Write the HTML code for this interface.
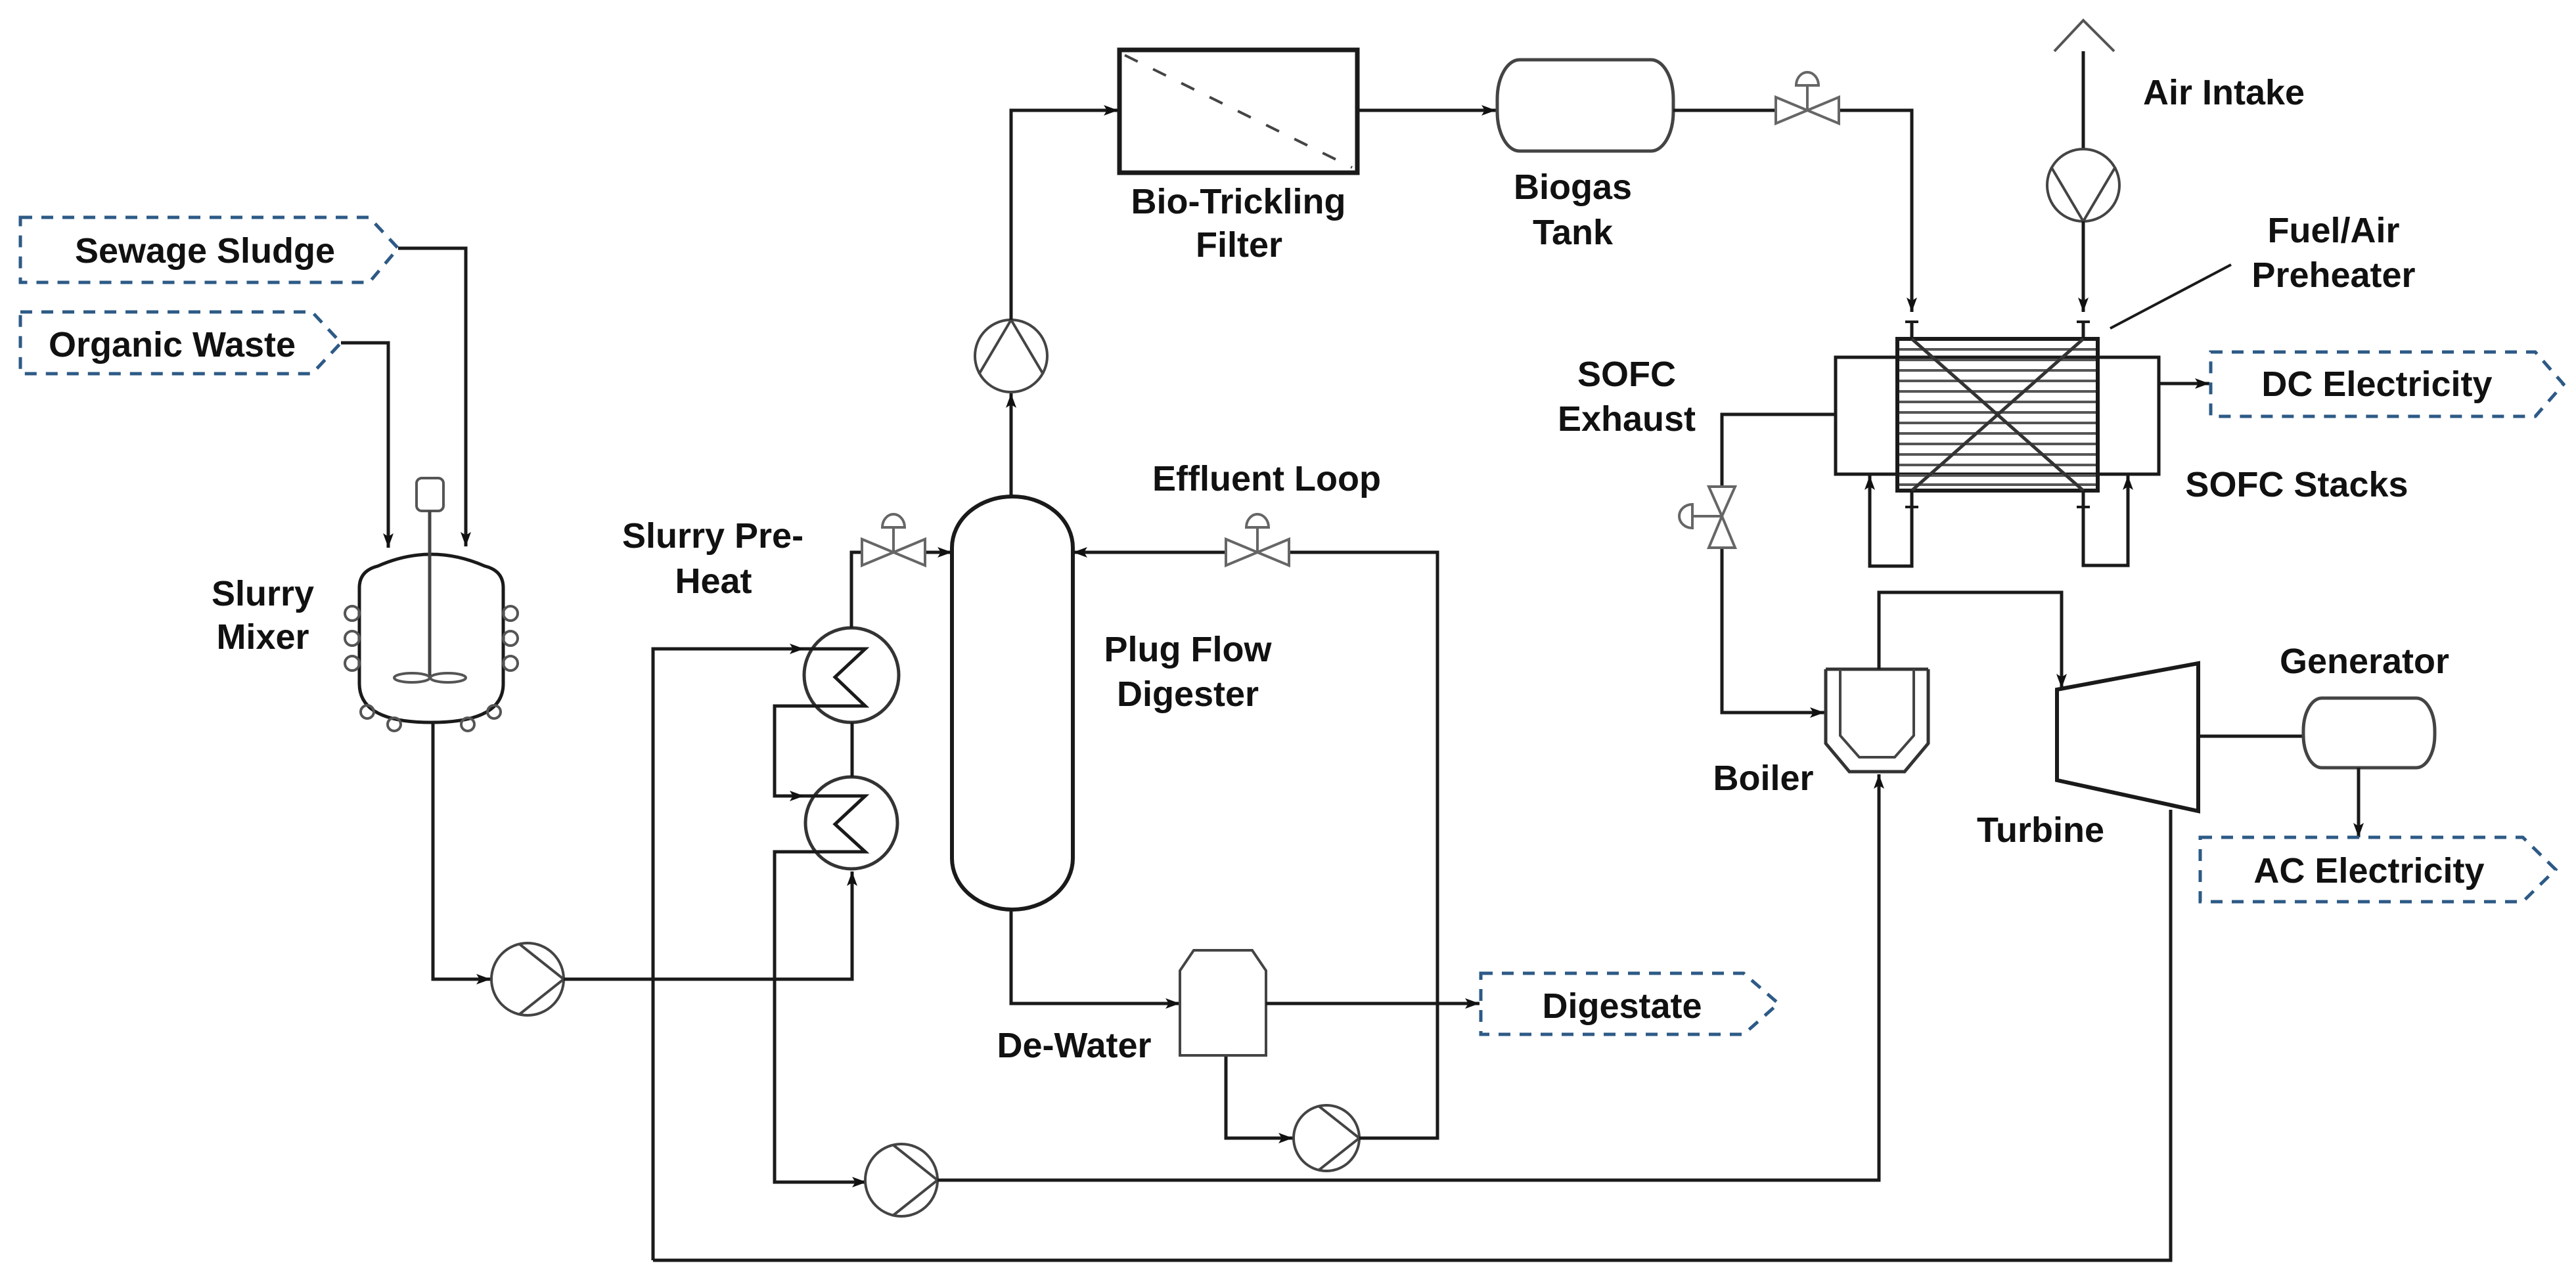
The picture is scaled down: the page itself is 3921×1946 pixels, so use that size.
<!DOCTYPE html>
<html><head><meta charset="utf-8"><style>
html,body{margin:0;padding:0;background:#fff}
svg{display:block}
text{font-family:"Liberation Sans",Arial,sans-serif;font-weight:bold;font-size:54px;fill:#111;text-anchor:middle}
</style></head><body>
<svg width="3921" height="1946" viewBox="0 0 3921 1946" xmlns="http://www.w3.org/2000/svg">
<defs>
<marker id="a" markerUnits="userSpaceOnUse" markerWidth="24" markerHeight="16" refX="22" refY="8" orient="auto">
<path d="M0,0 L22,8 L0,16 L5,8 z" fill="#111"/></marker>
</defs>
<g fill="none" stroke="#1a1a1a" stroke-width="5">
<!-- feeds -->
<polyline points="606,378 709,378 709,832" marker-end="url(#a)"/>
<polyline points="519,522 591,522 591,834" marker-end="url(#a)"/>
<!-- mixer -->
<path d="M547,1041 L547,895 Q547,869 575,862 Q656,826 738,862 Q766,869 766,895 L766,1041 Q766,1100 656,1100 Q547,1100 547,1041 Z"/>
<rect x="634" y="728" width="41" height="50" rx="8" stroke="#555" stroke-width="4"/>
<line x1="654" y1="778" x2="654" y2="1032" stroke="#444" stroke-width="5"/>
<ellipse cx="627" cy="1032" rx="27" ry="7" stroke="#555" stroke-width="4"/>
<ellipse cx="682" cy="1032" rx="27" ry="7" stroke="#555" stroke-width="4"/>
<g stroke="#555" stroke-width="4">
<circle cx="536" cy="934" r="11"/><circle cx="536" cy="972" r="11"/><circle cx="536" cy="1010" r="11"/>
<circle cx="777" cy="934" r="11"/><circle cx="777" cy="972" r="11"/><circle cx="777" cy="1010" r="11"/>
<circle cx="559" cy="1084" r="10"/><circle cx="600" cy="1103" r="10"/><circle cx="712" cy="1103" r="10"/><circle cx="752" cy="1084" r="10"/>
</g>
<!-- mixer to pump1 -->
<polyline points="659,1100 659,1491 747,1491" marker-end="url(#a)"/>
<g stroke="#444" stroke-width="4"><circle cx="803" cy="1491" r="55"/><polyline points="790,1437 858,1491 790,1545"/></g>
<polyline points="858,1491 1297,1491 1297,1327" marker-end="url(#a)"/>
<!-- heat exchangers -->
<g stroke="#333"><circle cx="1296" cy="1028" r="72"/><circle cx="1296" cy="1253" r="70"/></g>
<polyline points="994,1919 994,988 1224,988" marker-end="url(#a)"/>
<polyline points="1224,988 1317,988 1271,1031 1317,1075 1179,1075 1179,1212 1224,1212"/>
<polyline points="1179,1212 1224,1212" marker-end="url(#a)"/>
<polyline points="1224,1212 1317,1212 1271,1255 1317,1297 1179,1297 1179,1800 1319,1800"/>
<polyline points="1260,1800 1319,1800" marker-end="url(#a)"/>
<line x1="1297" y1="1100" x2="1297" y2="1183"/>
<polyline points="1296,956 1296,841 1312,841"/>
<polyline points="1408,841 1449,841" marker-end="url(#a)"/>
<!-- pump2 -->
<g stroke="#444" stroke-width="4"><circle cx="1372" cy="1797" r="55"/><polyline points="1359,1743 1427,1797 1359,1851"/></g>
<polyline points="1427,1797 2860,1797 2860,1179" marker-end="url(#a)"/>
<!-- big return line -->
<polyline points="994,1919 3304,1919 3304,1233"/>
<!-- digester -->
<path d="M1449,834 A92,78 0 0 1 1633,834 L1633,1307 A92,78 0 0 1 1449,1307 Z" stroke-width="6"/>
<polyline points="1539,756 1539,599" marker-end="url(#a)"/>
<g stroke="#444" stroke-width="4"><circle cx="1539" cy="542" r="55"/><polyline points="1490,570 1539,487 1588,570"/></g>
<polyline points="1539,487 1539,168 1702,168" marker-end="url(#a)"/>
<!-- effluent loop -->
<polyline points="1866,1607 1866,1733 1968,1733" marker-end="url(#a)"/>
<g stroke="#444" stroke-width="4"><circle cx="2019" cy="1733" r="50"/><polyline points="2007,1684 2069,1733 2007,1782"/></g>
<polyline points="2069,1733 2188,1733 2188,841 1962,841"/>
<polyline points="1866,841 1633,841" marker-end="url(#a)"/>
<!-- dewater -->
<polyline points="1539,1385 1539,1528 1796,1528" marker-end="url(#a)"/>
<path d="M1796,1607 L1796,1478 L1817,1447 L1906,1447 L1927,1478 L1927,1607 Z" stroke="#444" stroke-width="4"/>
<polyline points="1927,1528 2252,1528" marker-end="url(#a)"/>
<!-- filter -->
<rect x="1704" y="76" width="362" height="187" stroke-width="7"/>
<line x1="1712" y1="84" x2="2058" y2="255" stroke="#444" stroke-dasharray="22,26" stroke-width="4"/>
<polyline points="2066,168 2277,168" marker-end="url(#a)"/>
<rect x="2279" y="91" width="268" height="139" rx="34" ry="60" stroke="#444"/>
<polyline points="2547,168 2703,168"/>
<polyline points="2799,168 2910,168 2910,475" marker-end="url(#a)"/>
<line x1="2900" y1="490" x2="2920" y2="490" stroke-width="4"/>
<!-- air -->
<polyline points="3127,78 3171,31 3218,78" stroke="#555" stroke-width="4"/>
<line x1="3171" y1="78" x2="3171" y2="227"/>
<g stroke="#444" stroke-width="4"><circle cx="3171" cy="282" r="55"/><polyline points="3122,254 3171,337 3220,254"/></g>
<polyline points="3171,337 3171,475" marker-end="url(#a)"/>
<line x1="3161" y1="490" x2="3181" y2="490" stroke-width="4"/>
<line x1="2910" y1="490" x2="2910" y2="516"/><line x1="3171" y1="490" x2="3171" y2="516"/>
<line x1="3212" y1="500" x2="3396" y2="403" stroke-width="4"/>
<!-- SOFC -->
<rect x="2794" y="544" width="492" height="178"/>
<g stroke="#555" stroke-width="4">
<line x1="2888" y1="532" x2="3193" y2="532"/><line x1="2888" y1="548" x2="3193" y2="548"/><line x1="2888" y1="564" x2="3193" y2="564"/>
<line x1="2888" y1="580" x2="3193" y2="580"/><line x1="2888" y1="596" x2="3193" y2="596"/><line x1="2888" y1="612" x2="3193" y2="612"/>
<line x1="2888" y1="628" x2="3193" y2="628"/><line x1="2888" y1="644" x2="3193" y2="644"/><line x1="2888" y1="660" x2="3193" y2="660"/>
<line x1="2888" y1="676" x2="3193" y2="676"/><line x1="2888" y1="692" x2="3193" y2="692"/><line x1="2888" y1="708" x2="3193" y2="708"/>
<line x1="2888" y1="724" x2="3193" y2="724"/><line x1="2888" y1="738" x2="3193" y2="738"/>
</g>
<rect x="2888" y="516" width="305" height="231" stroke-width="6"/>
<line x1="2910" y1="516" x2="3171" y2="747" stroke="#333"/>
<line x1="3171" y1="516" x2="2910" y2="747" stroke="#333"/>
<line x1="2900" y1="772" x2="2920" y2="772" stroke-width="4"/><line x1="3161" y1="772" x2="3181" y2="772" stroke-width="4"/>
<polyline points="2910,747 2910,862 2846,862 2846,724" marker-end="url(#a)"/>
<polyline points="3171,747 3171,861 3239,861 3239,724" marker-end="url(#a)"/>
<polyline points="3286,584 3363,584" marker-end="url(#a)"/>
<!-- exhaust -->
<polyline points="2794,631 2621,631 2621,741"/>
<polyline points="2621,834 2621,1085 2777,1085" marker-end="url(#a)"/>
<!-- boiler -->
<path d="M2779,1019 L2935,1019 M2779,1019 L2779,1132 L2815,1175 L2899,1175 L2935,1132 L2935,1019" stroke="#333"/>
<path d="M2801,1019 L2801,1120 L2830,1153 L2884,1153 L2913,1120 L2913,1019" stroke="#444" stroke-width="4"/>
<polyline points="2860,1019 2860,902 3138,902 3138,1048" marker-end="url(#a)"/>
<!-- turbine / generator -->
<polygon points="3131,1050 3346,1010 3346,1235 3131,1188" stroke-width="6"/>
<line x1="3346" y1="1121" x2="3506" y2="1121"/>
<rect x="3506" y="1063" width="200" height="106" rx="28" ry="50" stroke="#444"/>
<polyline points="3590,1169 3590,1275" marker-end="url(#a)"/>
</g>
<!-- valves -->
<g fill="none" stroke="#666" stroke-width="4">
<path d="M1312,821 L1360,841 L1312,861 Z M1408,821 L1360,841 L1408,861 Z M1360,841 L1360,803 M1343,803 A17,20 0 0 1 1377,803 Z"/>
<path d="M1866,821 L1914,841 L1866,861 Z M1962,821 L1914,841 L1962,861 Z M1914,841 L1914,803 M1897,803 A17,20 0 0 1 1931,803 Z"/>
<path d="M2703,148 L2751,168 L2703,188 Z M2799,148 L2751,168 L2799,188 Z M2751,168 L2751,130 M2734,130 A17,20 0 0 1 2768,130 Z"/>
<path d="M2601,741 L2621,786 L2641,741 Z M2601,834 L2621,786 L2641,834 Z M2621,786 L2576,786 M2576,768 A20,18 0 0 0 2576,804 Z"/>
</g>
<!-- dashed streams -->
<g fill="none" stroke="#2d5a86" stroke-width="5" stroke-dasharray="18,14">
<path d="M31,331 L562,331 L606,378 L562,430 L31,430 Z"/>
<path d="M31,475 L475,475 L519,522 L475,569 L31,569 Z"/>
<path d="M2254,1482 L2654,1482 L2707,1528 L2654,1575 L2254,1575 Z"/>
<path d="M3365,536 L3859,536 L3902,585 L3859,634 L3365,634 Z"/>
<path d="M3349,1275 L3840,1275 L3890,1324 L3840,1373 L3349,1373 Z"/>
</g>
<!-- labels -->
<text x="312" y="400">Sewage Sludge</text>
<text x="262" y="543">Organic Waste</text>
<text x="400" y="922">Slurry</text>
<text x="400" y="988">Mixer</text>
<text x="1085" y="834">Slurry Pre-</text>
<text x="1086" y="903">Heat</text>
<text x="1808" y="1007">Plug Flow</text>
<text x="1808" y="1075">Digester</text>
<text x="1928" y="747">Effluent Loop</text>
<text x="1635" y="1610">De-Water</text>
<text x="2469" y="1550">Digestate</text>
<text x="1885" y="325">Bio-Trickling</text>
<text x="1886" y="391">Filter</text>
<text x="2394" y="303">Biogas</text>
<text x="2394" y="372">Tank</text>
<text x="3385" y="159">Air Intake</text>
<text x="3552" y="369">Fuel/Air</text>
<text x="3552" y="437">Preheater</text>
<text x="2476" y="588">SOFC</text>
<text x="2476" y="656">Exhaust</text>
<text x="3618" y="603">DC Electricity</text>
<text x="3496" y="756">SOFC Stacks</text>
<text x="2684" y="1203">Boiler</text>
<text x="3106" y="1282">Turbine</text>
<text x="3599" y="1025">Generator</text>
<text x="3606" y="1344">AC Electricity</text>
</svg>
</body></html>
